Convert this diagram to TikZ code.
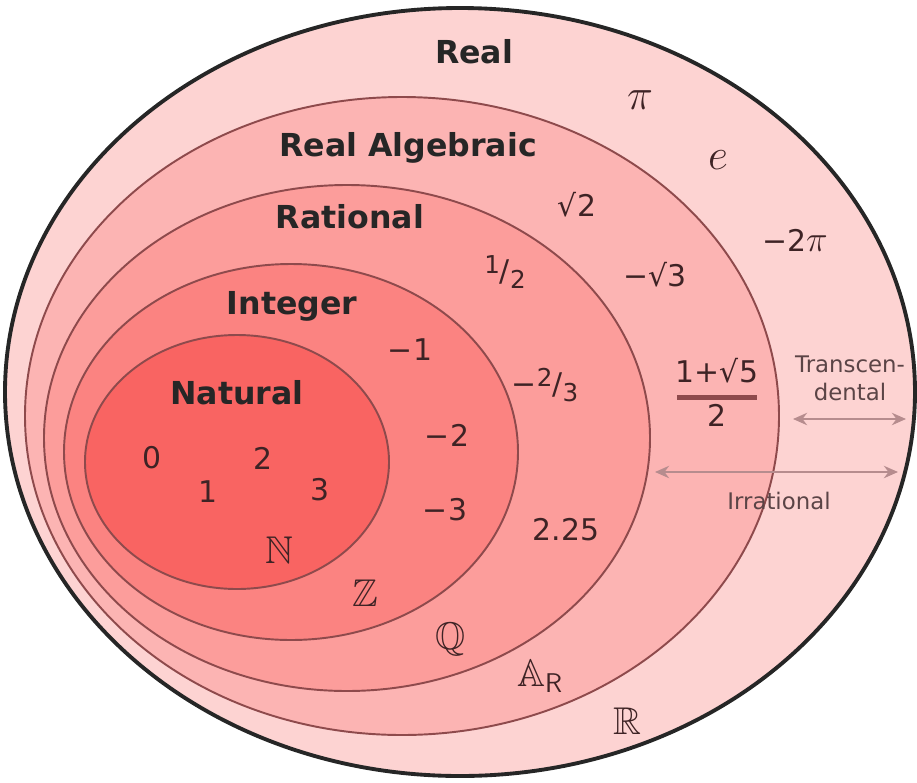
\documentclass[tikz,border=0pt]{standalone}
\usepackage{amssymb}
\usepackage{fontspec}
\setmainfont{DejaVu Sans}
\usetikzlibrary{arrows.meta}
\definecolor{creal}{HTML}{FDD3D2}
\definecolor{calg}{HTML}{FCB4B3}
\definecolor{crat}{HTML}{FC9D9B}
\definecolor{cint}{HTML}{FB8381}
\definecolor{cnat}{HTML}{F96462}
\definecolor{cedge}{HTML}{8E4A4C}
\definecolor{ctext}{HTML}{3E2325}
\definecolor{carrow}{HTML}{B68C8E}

\begin{document}
\begin{tikzpicture}[
    x=0.02cm, y=-0.02cm,
    set/.style={draw=cedge, line width=1.1pt},
    title/.style={font=\fontsize{18}{20}\selectfont\bfseries, text=black!85},
    num/.style={font=\fontsize{17}{19}\selectfont, text=ctext},
    greek/.style={font=\fontsize{23}{25}\selectfont, text=ctext},
    sym/.style={font=\fontsize{22}{24}\selectfont, text=ctext},
    note/.style={font=\fontsize{13}{16}\selectfont, text=ctext!85, align=center},
    span/.style={{Stealth[length=8pt,width=7pt]}-{Stealth[length=8pt,width=7pt]}, carrow, line width=1.6pt},
]
\useasboundingbox (0,0) rectangle (917,782);

% --- nested sets, outermost first ---
\draw[fill=creal, draw=black!85, line width=2.2pt] (460,392) ellipse [x radius=455, y radius=384];
\draw[set, fill=calg] (402,416) ellipse [x radius=377, y radius=319];
\draw[set, fill=crat] (347,438) ellipse [x radius=303, y radius=253];
\draw[set, fill=cint] (291,452) ellipse [x radius=227, y radius=188];
\draw[set, fill=cnat] (237,462) ellipse [x radius=152, y radius=127];

% --- set names ---
\node[title] (lreal) at (474,52) {Real};
\node[title] (lalg) at (408,148) {Real Algebraic};
\node[title] (lrat) at (350,217) {Rational};
\node[title] (lint) at (292,306) {Integer};
\node[title] (lnat) at (237,393) {Natural};

% --- real numbers ---
\node[greek] (pi) at (640,100) {$\pi$};
\node[greek] (e) at (718,160) {$e$};
\node[num] (mtwopi) at (795,240) {−2{\fontsize{20}{22}\selectfont$\pi$}};

% --- real algebraic ---
\node[num] (sqtwo) at (577,205) {√2};
\node[num] (msqthree) at (655,275) {−√3};
\node[num, align=center] (phi) at (717,392)
    {1+√5\\[-9pt]{\color{cedge}\rule{1.6cm}{2.6pt}}\\[-4pt]2};

% --- rational ---
\node[num] (half) at (505,272)
    {\raisebox{5pt}{\fontsize{14}{16}\selectfont 1}/\raisebox{-4pt}{\fontsize{14}{16}\selectfont 2}};
\node[num] (mtwothirds) at (545,385)
    {−\raisebox{5pt}{\fontsize{14}{16}\selectfont 2}/\raisebox{-4pt}{\fontsize{14}{16}\selectfont 3}};
\node[num] (quarter) at (566,530) {2.25};

% --- integer ---
\node[num] (mone) at (410,350) {−1};
\node[num] (mtwo) at (447,435) {−2};
\node[num] (mthree) at (445,510) {−3};

% --- natural ---
\node[num] (zero) at (152,458) {0};
\node[num] (one) at (208,492) {1};
\node[num] (two) at (263,458) {2};
\node[num] (three) at (320,490) {3};

% --- set symbols ---
\node[sym] (symN) at (279,550) {$\mathbb{N}$};
\node[sym] (symZ) at (365,593) {$\mathbb{Z}$};
\node[sym] (symQ) at (451,639) {$\mathbb{Q}$};
\node[sym] (symA) at (540,676) {$\mathbb{A}_{\mathsf{R}}$};
\node[sym] (symR) at (627,721) {$\mathbb{R}$};

% --- irrational / transcendental spans ---
\node[note] (ltrans) at (850,378) {Transcen-\\dental};
\coordinate (trl) at (793,419);
\coordinate (trr) at (906,419);
\draw[span] (trl) -- (trr);

\coordinate (irl) at (655,472);
\coordinate (irr) at (898,472);
\draw[span] (irl) -- (irr);
\node[note] (lirr) at (779,501) {Irrational};

\end{tikzpicture}
\end{document}
